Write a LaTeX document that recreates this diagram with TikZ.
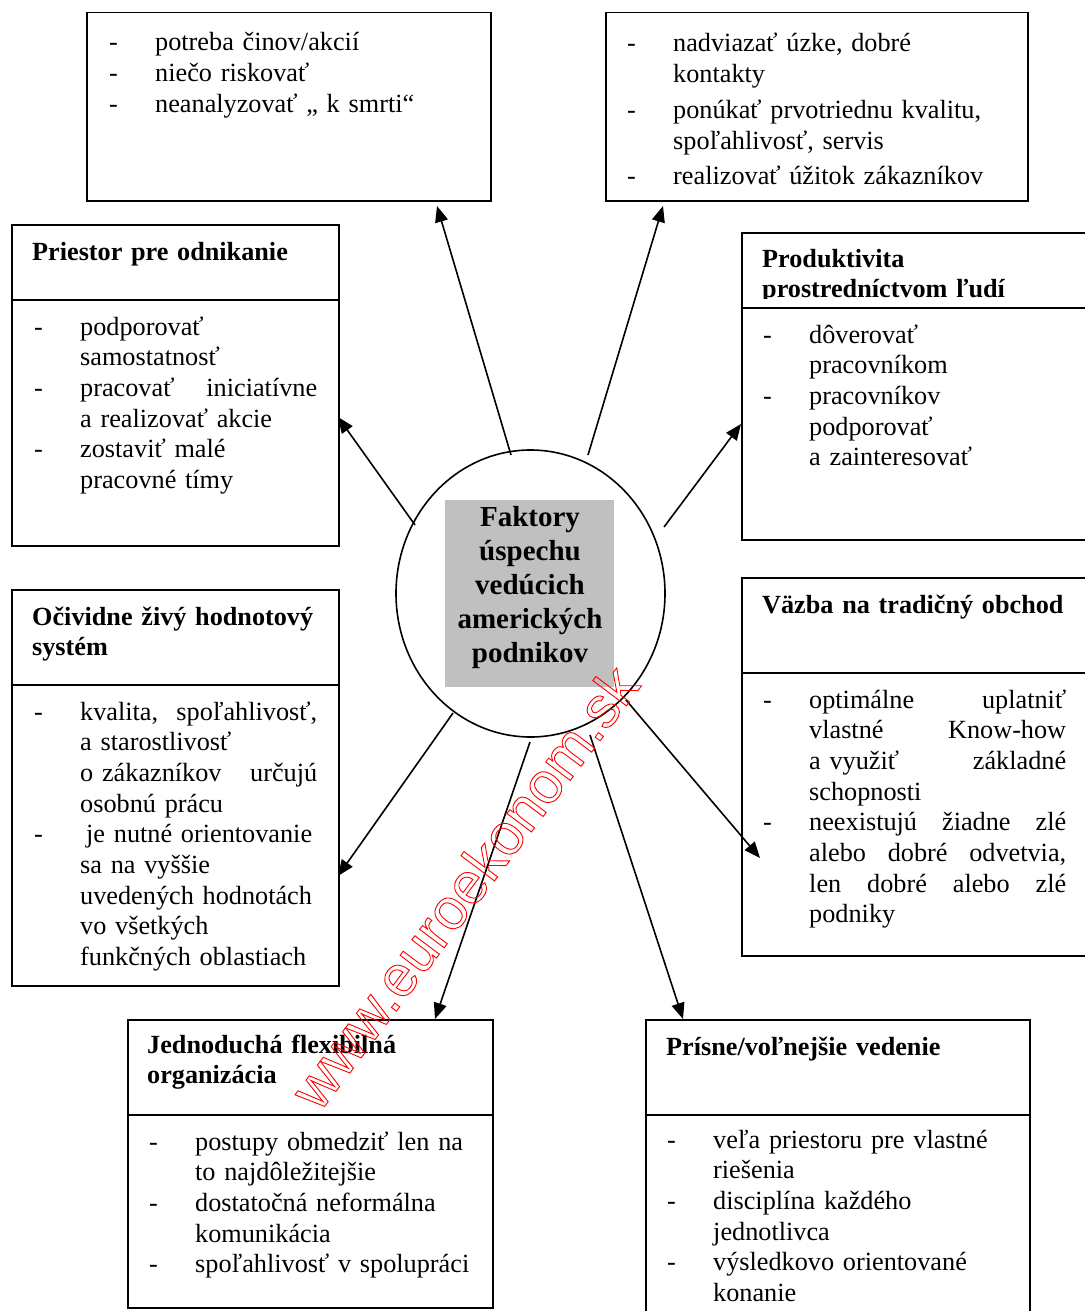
\documentclass[tikz,border=0pt]{standalone}
\usepackage{fontspec}
\setmainfont{Liberation Serif}
\newfontfamily\wmfont{Liberation Sans}
\usetikzlibrary{arrows.meta,shapes.geometric}
\definecolor{boxgray}{HTML}{C0C0C0}
\newcommand\txtfont{\fontsize{26.25}{30.7}\selectfont}
\newcommand\hdfont{\fontsize{26.2}{30.9}\selectfont\bfseries}
\newcommand\ctrfont{\fontsize{29}{34.2}\selectfont\bfseries}
\newlength\dw \setlength\dw{46pt}
\newcommand\dl[1]{\makebox[\dw][l]{-}\mbox{#1}}
\newcommand\cl[1]{\hspace*{\dw}\mbox{#1}}
\newcommand\djl[2]{\makebox[\dw][l]{-}\hbox to #1{#2}}
\newcommand\cjl[2]{\hspace*{\dw}\hbox to #1{#2}}
\tikzset{
  box/.style={draw, line width=1.5pt, inner sep=0pt, anchor=north west},
  bodytext/.style={anchor=base west, inner sep=0pt, align=left, text width=420pt, font=\txtfont},
  headtext/.style={anchor=base west, inner sep=0pt, align=left, text width=420pt, font=\hdfont},
  arr/.style={-{Triangle[length=16pt,width=13pt]}, line width=1.6pt},
  divider/.style={line width=1.5pt}
}
\begin{document}
\begin{tikzpicture}[x=1pt,y=-1pt]
\useasboundingbox (0,0) rectangle (1084,1311);
\fill[white] (0,0) rectangle (1084,1311);

% --- boxes ---
\node[box, minimum width=404, minimum height=188] (tl) at (86,12) {};
\node[box, minimum width=422, minimum height=188] (tr) at (605,12) {};
\node[box, minimum width=327, minimum height=321] (pr) at (11,224) {};
\node[box, minimum width=350, minimum height=307] (pd) at (741,232) {};
\node[box, minimum width=327, minimum height=396] (oc) at (11,589) {};
\node[box, minimum width=350, minimum height=378] (vz) at (741,577) {};
\node[box, minimum width=365, minimum height=288] (jd) at (127,1019) {};
\node[box, minimum width=384, minimum height=300] (ps) at (645,1019) {};

\draw[divider] (pr.west |- 0,300) -- (pr.east |- 0,300);
\draw[divider] (pd.west |- 0,308) -- (pd.east |- 0,308);
\draw[divider] (oc.west |- 0,685) -- (oc.east |- 0,685);
\draw[divider] (vz.west |- 0,673) -- (vz.east |- 0,673);
\draw[divider] (jd.west |- 0,1115) -- (jd.east |- 0,1115);
\draw[divider] (ps.west |- 0,1115) -- (ps.east |- 0,1115);

% --- headings ---
\node[headtext] (prh) at (32,260) {Priestor pre odnikanie};
\begin{scope}
\clip (741,232) rectangle (1084,298.5);
\node[headtext] (pdh) at (762,267) {Produktivita\\prostredníctvom ľudí};
\end{scope}
\node[headtext] (och) at (32,625) {Očividne živý hodnotový\\systém};
\node[headtext] (vzh) at (762,613) {Väzba na tradičný obchod};
\node[headtext] (jdh) at (147,1053) {Jednoduchá flexibilná\\organizácia};
\node[headtext] (psh) at (666,1055) {Prísne/voľnejšie vedenie};

% --- body texts ---
\node[bodytext] (tlb) at (109,51) {\dl{potreba činov/akcií}\\\dl{niečo riskovať}\\\dl{neanalyzovať „ k smrti“}};
\node[bodytext] (trb) at (627,52) {\dl{nadviazať úzke, dobré}\\\cl{kontakty}\\[5pt]\dl{ponúkať prvotriednu kvalitu,}\\\cl{spoľahlivosť, servis}\\[5pt]\dl{realizovať úžitok zákazníkov}};
\node[bodytext] (prb) at (34,335) {\dl{podporovať}\\\cl{samostatnosť}\\\djl{237pt}{pracovať\hfill iniciatívne}\\\cl{a realizovať akcie}\\\dl{zostaviť malé}\\\cl{pracovné tímy}};
\node[bodytext] (pdb) at (763,343) {\dl{dôverovať}\\\cl{pracovníkom}\\\dl{pracovníkov}\\\cl{podporovať}\\\cl{a zainteresovať}};
\node[bodytext] (ocb) at (34,720) {\djl{237pt}{kvalita,\hfill spoľahlivosť,}\\\cl{a starostlivosť}\\\cjl{237pt}{o zákazníkov\hfill určujú}\\\cl{osobnú prácu}\\\dl{\hspace{6pt}je nutné orientovanie}\\\cl{sa na vyššie}\\\cl{uvedených hodnotách}\\\cl{vo všetkých}\\\cl{funkčných oblastiach}};
\node[bodytext] (vzb) at (763,708) {\djl{257pt}{optimálne\hfill uplatniť}\\\cjl{257pt}{vlastné\hfill Know-how}\\\cjl{257pt}{a využiť\hfill základné}\\\cl{schopnosti}\\\djl{257pt}{neexistujú\hfill žiadne\hfill zlé}\\\cjl{257pt}{alebo\hfill dobré\hfill odvetvia,}\\\cjl{257pt}{len\hfill dobré\hfill alebo\hfill zlé}\\\cl{podniky}};
\node[bodytext] (jdb) at (149,1150) {\dl{postupy obmedziť len na}\\\cl{to najdôležitejšie}\\\dl{dostatočná neformálna}\\\cl{komunikácia}\\\dl{spoľahlivosť v spolupráci}};
\node[bodytext] (psb) at (667,1148) {\dl{veľa priestoru pre vlastné}\\\cl{riešenia}\\\dl{disciplína každého}\\\cl{jednotlivca}\\\dl{výsledkovo orientované}\\\cl{konanie}};

% --- centre ---
\node[draw, line width=1.6pt, ellipse, minimum width=269, minimum height=287, inner sep=0pt] (c) at (530.5,593.5) {};
\node[fill=boxgray, anchor=north west, minimum width=169, minimum height=187, inner sep=0pt] (g) at (445,500) {};
\node[anchor=base, inner sep=0pt, align=center, text width=169pt, font=\ctrfont] (ct) at (530,526) {Faktory\\úspechu\\vedúcich\\amerických\\podnikov};

% --- connectors ---
\coordinate (s1) at (511,455); \coordinate (e1) at (437,206);
\coordinate (s2) at (588,455); \coordinate (e2) at (663,206);
\coordinate (s3) at (415,525); \coordinate (e3) at (338,417);
\coordinate (s4) at (664,527); \coordinate (e4) at (741,424);
\coordinate (s5) at (453,713); \coordinate (e5) at (338,876);
\coordinate (s6) at (626,700); \coordinate (e6) at (760,858);
\coordinate (s7) at (530,742); \coordinate (e7) at (435,1019);
\coordinate (s8) at (590,735); \coordinate (e8) at (683,1019);
\foreach \i in {1,...,8} { \draw[arr] (s\i) -- (e\i); }

% --- watermark ---
\node[rotate=53, inner sep=0pt, text=red, font=\wmfont\fontsize{58}{60}\selectfont] (wm) at (464,887)
  {\special{pdf:literal direct 1 Tr 0.9 w}www.euroekonom.sk\special{pdf:literal direct 0 Tr}};
\end{tikzpicture}
\end{document}
